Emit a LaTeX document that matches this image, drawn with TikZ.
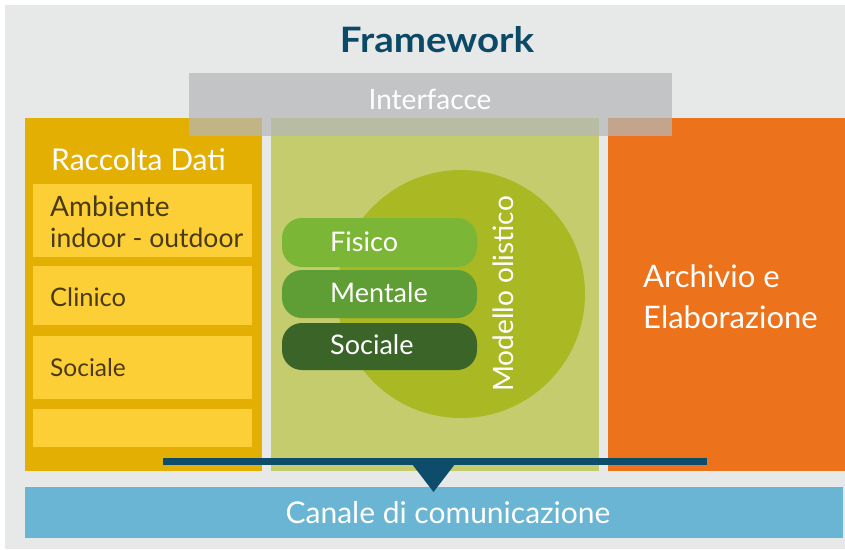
\documentclass[tikz,border=0pt]{standalone}
\usepackage{fontspec}
\setmainfont{Lato}
\newfontfamily\titlefont[FakeStretch=1.1]{Lato}
\usetikzlibrary{shapes.geometric}
\definecolor{bgc}{HTML}{E7E8E8}
\definecolor{titlec}{HTML}{0B4A66}
\definecolor{ifc}{HTML}{B4B7B8}
\definecolor{ycol}{HTML}{E3AF02}
\definecolor{ybox}{HTML}{FDCF36}
\definecolor{ytext}{HTML}{4A3A12}
\definecolor{gcol}{HTML}{C5CC6D}
\definecolor{circc}{HTML}{A9B823}
\definecolor{pillA}{HTML}{7BB636}
\definecolor{pillB}{HTML}{5F9D35}
\definecolor{pillC}{HTML}{3B6428}
\definecolor{ocol}{HTML}{EC731C}
\definecolor{canc}{HTML}{69B5D3}
\definecolor{linec}{HTML}{0D4D6B}
\tikzset{
  panel/.style={rectangle, inner sep=0pt, draw=none},
  ibox/.style={panel, fill=ybox, minimum width=219pt, text=ytext},
  pill/.style={rectangle, rounded corners=20pt, inner sep=0pt, minimum width=195pt, text=white},
  wtext/.style={text=white, inner sep=0pt},
  btext/.style={text=ytext, inner sep=0pt, anchor=west},
}
\begin{document}
\begin{tikzpicture}[x=1pt,y=-1pt]
\useasboundingbox (0,0) rectangle (845,549);
\fill[white] (0,0) rectangle (845,549);
\node[panel, fill=bgc, minimum width=840pt, minimum height=544pt] (bg) at (425,276.5) {};
% title
\node[text=titlec, font=\titlefont\bfseries\fontsize{35}{40}\selectfont, inner sep=0pt] (title) at (437,40) {Framework};
% columns
\node[panel, fill=ycol, minimum width=237pt, minimum height=353pt] (ycolumn) at (143.5,294.5) {};
\node[panel, fill=gcol, minimum width=328pt, minimum height=353pt] (gcolumn) at (435,294.5) {};
\node[panel, fill=ocol, minimum width=237pt, minimum height=353pt] (ocolumn) at (726.5,294.5) {};
% interface bar (translucent)
\node[panel, fill=ifc, fill opacity=0.72, minimum width=483pt, minimum height=63pt] (iface) at (430.5,104.5) {};
\node[wtext, font=\fontsize{28}{32}\selectfont] (ifacetext) at (430,99) {Interfacce};
% raccolta dati
\node[wtext, font=\fontsize{30}{34}\selectfont, anchor=west] (racc) at (51,160) {Raccolta Dati};
\node[ibox, minimum height=73pt] (amb) at (142.5,220.5) {};
\node[btext, font=\fontsize{28}{32}\selectfont] (ambA) at (50,206) {Ambiente};
\node[btext, font=\fontsize{26.5}{30}\selectfont] (ambB) at (50,238) {indoor - outdoor};
\node[ibox, minimum height=59pt] (clin) at (142.5,295.5) {};
\node[btext, font=\fontsize{25.5}{30}\selectfont] (clinT) at (50,297) {Clinico};
\node[ibox, minimum height=63pt] (soc) at (142.5,367.5) {};
\node[btext, font=\fontsize{24.5}{30}\selectfont] (socT) at (50,368) {Sociale};
\node[ibox, minimum height=38pt] (empty) at (142.5,428) {};
% modello olistico
\node[circle, fill=circc, minimum size=248pt, inner sep=0pt] (circ) at (461,294) {};
\node[pill, fill=pillA, minimum height=49pt] (fis) at (379.5,242.5) {};
\node[wtext, anchor=west, font=\fontsize{27}{31}\selectfont] (fisT) at (330,242) {Fisico};
\node[pill, fill=pillB, minimum height=48pt] (men) at (379.5,294) {};
\node[wtext, anchor=west, font=\fontsize{27}{31}\selectfont] (menT) at (330,293) {Mentale};
\node[pill, fill=pillC, minimum height=47pt] (socp) at (379.5,346.5) {};
\node[wtext, anchor=west, font=\fontsize{27}{31}\selectfont] (socpT) at (330,345) {Sociale};
\node[wtext, rotate=90, font=\fontsize{28}{32}\selectfont] (mod) at (503,294) {Modello olistico};
% archivio
\node[wtext, align=left, anchor=west, font=\fontsize{31}{41}\selectfont] (arch) at (643,297) {Archivio e\\Elaborazione};
% canale
\node[panel, fill=canc, minimum width=818pt, minimum height=51pt] (canale) at (434,512.5) {};
\node[wtext, font=\fontsize{30}{34}\selectfont] (canT) at (448,513) {Canale di comunicazione};
% connector bar with pointer
\coordinate (barL) at (163,461.5);
\coordinate (barR) at (707,461.5);
\draw[linec, line width=7pt] (barL) -- (barR);
\fill[linec] (412,464) -- (455,464) -- (433.5,492) -- cycle;
\end{tikzpicture}
\end{document}
